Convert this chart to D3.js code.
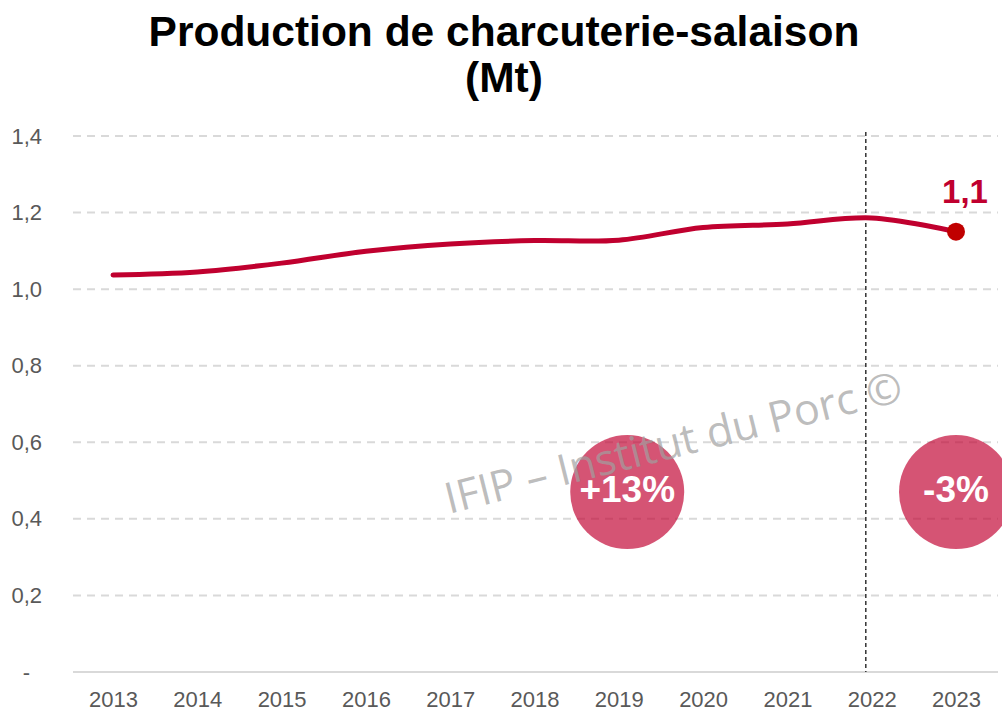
<!DOCTYPE html>
<html>
<head>
<meta charset="utf-8">
<script src="https://d3js.org/d3.v7.min.js"></script>
<style>
  body { margin: 0; background: #fff; }
</style>
</head>
<body>
<script>
const years = ['2013','2014','2015','2016','2017','2018','2019','2020','2021','2022','2023'];
const production = [1.037, 1.045, 1.068, 1.099, 1.118, 1.127, 1.128, 1.161, 1.170, 1.186, 1.150];
const yTicks = [0, 0.2, 0.4, 0.6, 0.8, 1.0, 1.2, 1.4];
const lastLabel = '1,1';
const badges = [{year: '2019', value: 0.47, text: '+13%'}, {year: '2023', value: 0.47, text: '-3%'}];
const markerYear = '2022';

const width = 1002, height = 711;
const margin = {top: 136, right: 4, bottom: 39, left: 73};

const svg = d3.select("body")
  .append("svg")
    .attr("width", width)
    .attr("height", height);

const x = d3.scalePoint()
    .domain(years)
    .range([margin.left + 40, width - margin.right - 42]);

const y = d3.scaleLinear()
    .domain([0, 1.4])
    .range([height - margin.bottom, margin.top]);

// title
const title = svg.append("text")
    .attr("text-anchor", "middle")
    .attr("font-family", "'Liberation Sans', Arial, sans-serif")
    .attr("font-weight", "bold")
    .attr("font-size", 42.5)
    .attr("fill", "#000");
title.append("tspan").attr("x", 504).attr("y", 46).text("Production de charcuterie-salaison");
title.append("tspan").attr("x", 504).attr("y", 92).text("(Mt)");

// gridlines
svg.append("g")
  .selectAll("line")
  .data(yTicks.filter(d => d > 0))
  .join("line")
    .attr("x1", margin.left)
    .attr("x2", width - margin.right)
    .attr("y1", d => y(d))
    .attr("y2", d => y(d))
    .attr("stroke", "#d9d9d9")
    .attr("stroke-width", 2)
    .attr("stroke-dasharray", "8,6");

// baseline
svg.append("line")
    .attr("x1", margin.left)
    .attr("x2", width - margin.right)
    .attr("y1", y(0))
    .attr("y2", y(0))
    .attr("stroke", "#d9d9d9")
    .attr("stroke-width", 2);

// y axis labels
const yAxis = svg.append("g")
    .attr("transform", "translate(" + (margin.left - 28) + ",0)")
    .call(d3.axisLeft(y).tickValues(yTicks).tickSize(0)
      .tickFormat(d => d === 0 ? "-" : d3.format(".1f")(d).replace(".", ",")));
yAxis.select(".domain").remove();
yAxis.selectAll("text")
    .attr("font-family", "'Liberation Sans', Arial, sans-serif")
    .attr("font-size", 22)
    .attr("fill", "#595959")
    .attr("dx", d => d === 0 ? -12 : 0);

// x axis labels
const xAxis = svg.append("g")
    .attr("transform", "translate(0," + (y(0) + 16) + ")")
    .call(d3.axisBottom(x).tickSize(0));
xAxis.select(".domain").remove();
xAxis.selectAll("text")
    .attr("font-family", "'Liberation Sans', Arial, sans-serif")
    .attr("font-size", 22)
    .attr("fill", "#595959");

// vertical marker
const step = x.step();
svg.append("line")
    .attr("x1", x(markerYear) - 0.07 * step)
    .attr("x2", x(markerYear) - 0.07 * step)
    .attr("y1", y(1.4) - 4)
    .attr("y2", y(0))
    .attr("stroke", "#333")
    .attr("stroke-width", 1.5)
    .attr("stroke-dasharray", "4,3");

// badges
const bg = svg.append("g")
  .selectAll("g")
  .data(badges)
  .join("g")
    .attr("transform", (d, i) => "translate(" + (x(d.year) + (i === 0 ? 0.1 * step : 0)) + "," + y(d.value) + ")");
bg.append("circle")
    .attr("r", 57)
    .attr("fill", "rgba(192, 0, 47, 0.67)");

// watermark
svg.append("text")
    .attr("transform", "translate(449,514) rotate(-14)")
    .attr("font-family", "'Open Sans', 'Noto Sans', sans-serif")
    .attr("font-size", 43)
    .attr("fill", "rgba(160,160,160,0.7)")
    .text("IFIP \u2013 Institut du Porc \u00a9");

bg.append("text")
    .attr("text-anchor", "middle")
    .attr("dy", 10)
    .attr("font-family", "'Liberation Sans', Arial, sans-serif")
    .attr("font-weight", "bold")
    .attr("font-size", 37)
    .attr("fill", "#fff")
    .text(d => d.text);

// line
const series = years.map((yr, i) => ({year: yr, value: production[i]}));
svg.append("path")
    .datum(series)
    .attr("fill", "none")
    .attr("stroke", "#c0002f")
    .attr("stroke-width", 5)
    .attr("stroke-linecap", "round")
    .attr("d", d3.line()
      .x(d => x(d.year))
      .y(d => y(d.value))
      .curve(d3.curveCatmullRom));

// last point
const last = series[series.length - 1];
svg.append("circle")
    .attr("cx", x(last.year))
    .attr("cy", y(last.value))
    .attr("r", 9)
    .attr("fill", "#c00000");
svg.append("text")
    .attr("x", x(last.year) + 9)
    .attr("y", y(last.value) - 29)
    .attr("text-anchor", "middle")
    .attr("font-family", "'Liberation Sans', Arial, sans-serif")
    .attr("font-weight", "bold")
    .attr("font-size", 33)
    .attr("fill", "#c0002f")
    .text(lastLabel);
</script>
</body>
</html>
